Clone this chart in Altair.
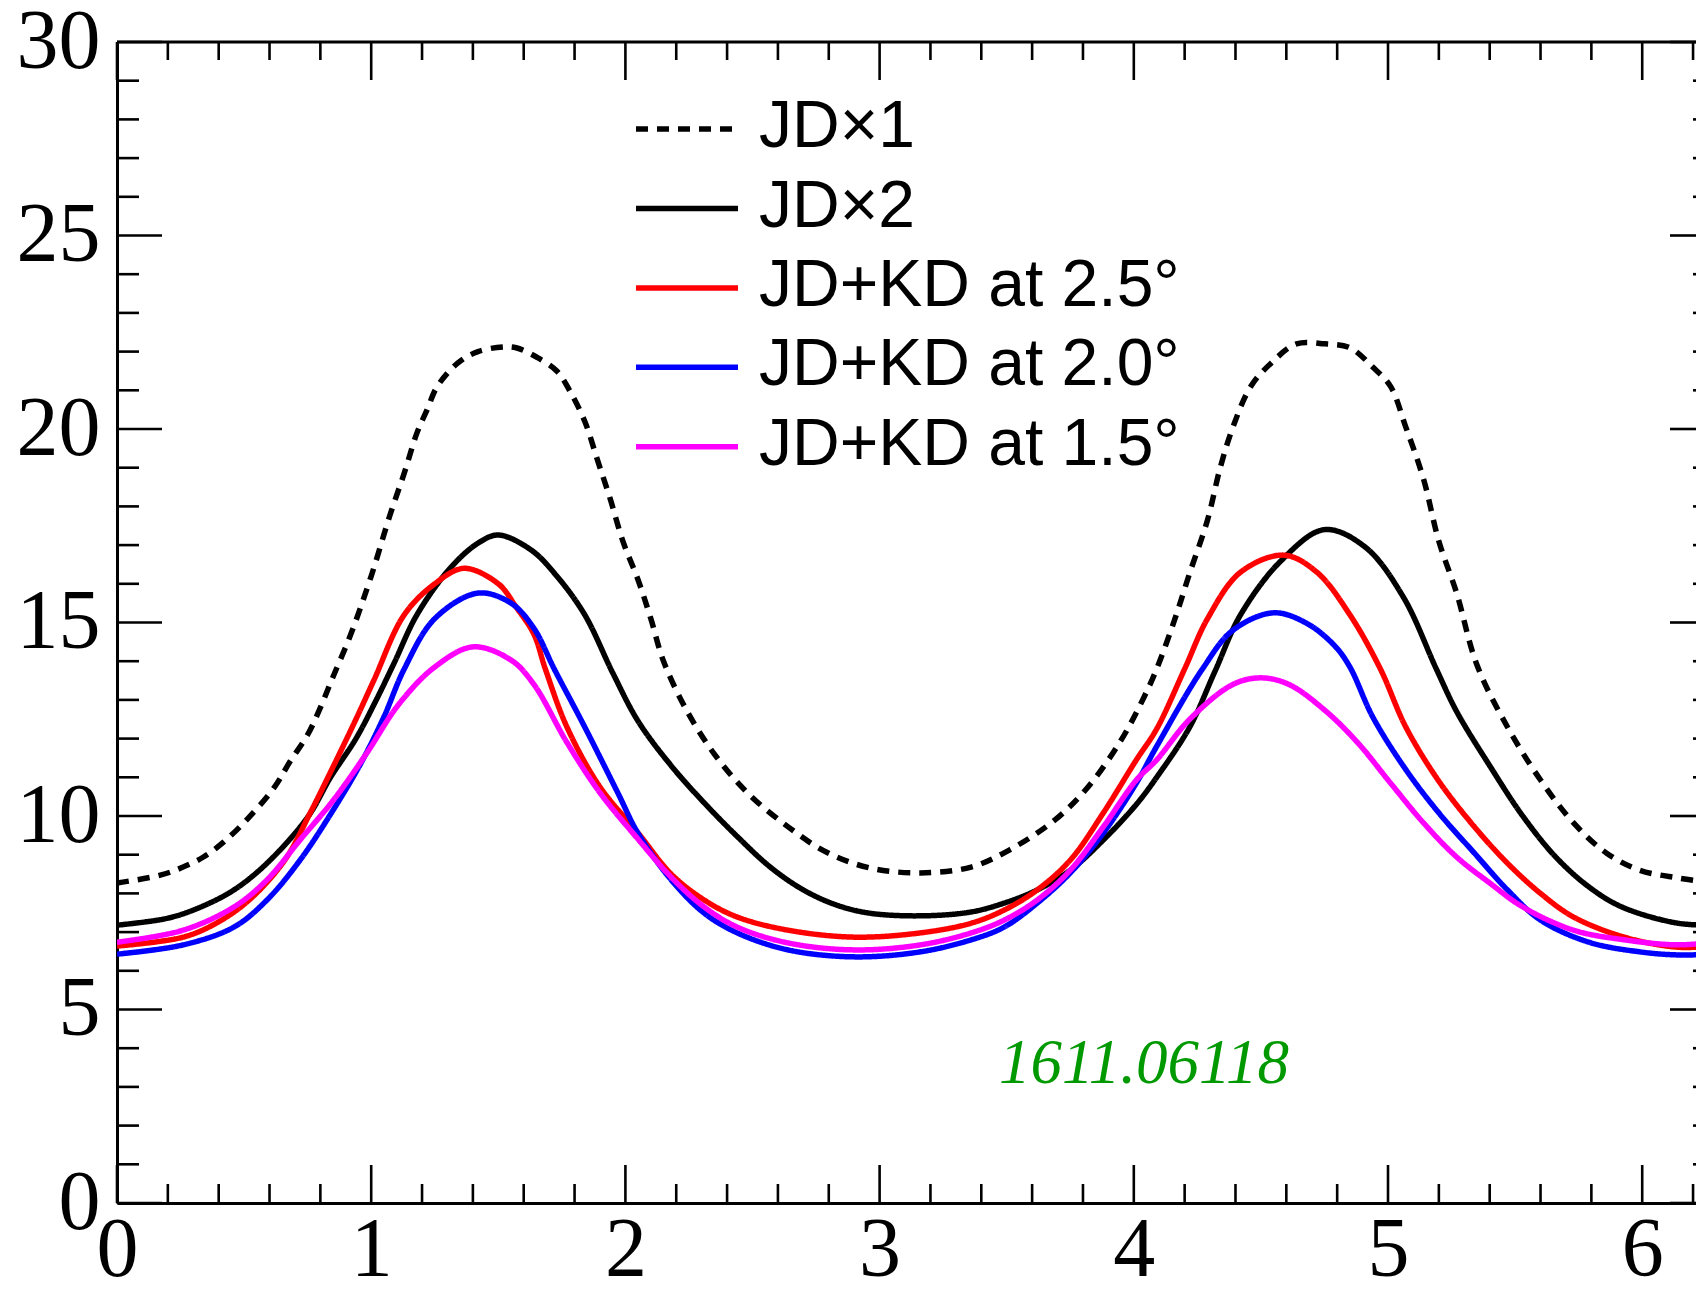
import altair as alt
import pandas as pd

# ---- curve samples (x, value) for each configuration ----
x_jd1 = [0.00, 0.17, 0.26, 0.34, 0.42, 0.52, 0.62, 0.68, 0.75, 0.80, 0.85, 0.92, 1.00, 1.075,
         1.13, 1.18, 1.22, 1.26, 1.34, 1.42, 1.52, 1.57, 1.65, 1.73, 1.78, 1.84, 1.89, 1.94,
         1.99, 2.05, 2.10, 2.15, 2.24, 2.35, 2.48, 2.64, 2.79, 2.96, 3.16, 3.36, 3.51, 3.69,
         3.82, 3.95, 4.04, 4.09, 4.16, 4.22, 4.29, 4.34, 4.39, 4.46, 4.54, 4.64, 4.75, 4.85,
         4.94, 5.01, 5.07, 5.14, 5.20, 5.27, 5.35, 5.47, 5.60, 5.73, 5.86, 5.99, 6.14, 6.28]
y_jd1 = [8.27, 8.47, 8.68, 8.94, 9.33, 9.97, 10.75, 11.4, 12.1, 12.8, 13.6, 14.7, 16.2, 17.8,
         18.86, 19.9, 20.5, 21.1, 21.7, 22.0, 22.12, 22.1, 21.86, 21.5, 21.0, 20.2, 19.2, 18.2,
         17.1, 16.1, 15.1, 14.0, 12.74, 11.6, 10.6, 9.72, 9.07, 8.66, 8.53, 8.68, 9.12, 9.9,
         10.75, 11.96, 13.07, 13.8, 15.06, 16.28, 17.65, 19.0, 20.05, 21.1, 21.7, 22.2, 22.2, 22.1,
         21.6, 21.1, 20.05, 18.7, 17.1, 15.76, 13.9, 12.3, 10.93, 9.82, 9.04, 8.6, 8.4, 8.27]

x_jd2 = [0.00, 0.20, 0.33, 0.46, 0.59, 0.75, 0.84, 0.94, 1.02, 1.09, 1.18, 1.31, 1.42, 1.50,
         1.63, 1.73, 1.84, 1.95, 2.05, 2.18, 2.31, 2.44, 2.57, 2.70, 2.83, 2.96, 3.16, 3.36,
         3.49, 3.62, 3.75, 3.88, 4.01, 4.09, 4.22, 4.32, 4.42, 4.58, 4.75, 4.91, 5.06, 5.19,
         5.27, 5.40, 5.53, 5.66, 5.79, 5.92, 6.14, 6.28]
y_jd2 = [7.18, 7.36, 7.65, 8.09, 8.78, 9.97, 11.0, 12.0, 13.0, 13.95, 15.2, 16.4, 17.05, 17.26,
         16.87, 16.2, 15.2, 13.7, 12.45, 11.3, 10.34, 9.47, 8.68, 8.09, 7.70, 7.49, 7.42, 7.52,
         7.75, 8.09, 8.6, 9.38, 10.3, 11.0, 12.3, 13.75, 15.2, 16.6, 17.4, 16.95, 15.66, 13.8,
         12.7, 11.3, 10.0, 8.94, 8.17, 7.65, 7.23, 7.18]

x_kd25 = [0.00, 0.26, 0.39, 0.52, 0.66, 0.76, 0.85, 0.94, 1.01, 1.13, 1.25, 1.365, 1.50, 1.57,
          1.64, 1.685, 1.77, 1.90, 2.05, 2.18, 2.31, 2.44, 2.64, 2.90, 3.16, 3.36, 3.49, 3.62,
          3.75, 3.88, 4.01, 4.09, 4.20, 4.29, 4.42, 4.59, 4.72, 4.85, 4.97, 5.07, 5.20, 5.34,
          5.47, 5.60, 5.73, 5.93, 6.14, 6.28]
y_kd25 = [6.64, 6.87, 7.23, 7.83, 8.86, 10.08, 11.27, 12.5, 13.5, 15.2, 16.0, 16.4, 16.0, 15.4,
          14.7, 13.8, 12.3, 10.75, 9.56, 8.5, 7.83, 7.39, 7.05, 6.87, 6.98, 7.23, 7.57, 8.09,
          8.86, 10.08, 11.45, 12.25, 13.8, 15.1, 16.3, 16.74, 16.3, 15.2, 13.8, 12.3, 10.9, 9.72,
          8.78, 8.0, 7.39, 6.87, 6.61, 6.64]

x_kd20 = [0.00, 0.26, 0.46, 0.59, 0.72, 0.85, 0.96, 1.05, 1.13, 1.25, 1.42, 1.55, 1.64, 1.72,
          1.84, 1.97, 2.05, 2.18, 2.31, 2.44, 2.64, 2.90, 3.16, 3.36, 3.49, 3.62, 3.75, 3.88,
          4.01, 4.09, 4.27, 4.39, 4.55, 4.68, 4.79, 4.85, 4.94, 5.07, 5.20, 5.34, 5.47, 5.60,
          5.79, 5.99, 6.14, 6.28]
y_kd20 = [6.43, 6.67, 7.13, 7.83, 8.86, 10.15, 11.37, 12.56, 13.8, 15.1, 15.76, 15.5, 14.85, 13.8,
          12.3, 10.6, 9.55, 8.35, 7.49, 6.98, 6.54, 6.36, 6.49, 6.80, 7.13, 7.75, 8.53, 9.56,
          10.85, 11.8, 13.8, 14.8, 15.25, 14.98, 14.4, 13.85, 12.56, 11.2, 10.08, 9.04, 8.09, 7.31,
          6.74, 6.49, 6.41, 6.43]

x_kd15 = [0.00, 0.26, 0.46, 0.59, 0.72, 0.85, 0.98, 1.11, 1.25, 1.40, 1.55, 1.64, 1.77, 1.90,
          2.05, 2.18, 2.31, 2.44, 2.64, 2.90, 3.16, 3.36, 3.49, 3.62, 3.75, 3.88, 4.01, 4.09,
          4.22, 4.39, 4.50, 4.61, 4.75, 4.88, 5.01, 5.14, 5.27, 5.40, 5.53, 5.73, 5.93, 6.14, 6.28]
y_kd15 = [6.74, 7.05, 7.65, 8.35, 9.38, 10.4, 11.6, 12.9, 13.85, 14.37, 14.03, 13.4, 11.9, 10.6,
          9.4, 8.42, 7.65, 7.13, 6.72, 6.54, 6.67, 6.98, 7.31, 7.83, 8.6, 9.72, 10.93, 11.45,
          12.5, 13.4, 13.57, 13.4, 12.74, 11.9, 10.85, 9.82, 8.94, 8.27, 7.65, 7.05, 6.80, 6.67, 6.74]

series_names = ["JD×1", "JD×2", "JD+KD at 2.5°", "JD+KD at 2.0°", "JD+KD at 1.5°"]
series_x = [x_jd1, x_jd2, x_kd25, x_kd20, x_kd15]
series_y = [y_jd1, y_jd2, y_kd25, y_kd20, y_kd15]

# ---- axis ticks ----
x_major = [0, 1, 2, 3, 4, 5, 6]
x_minor = [round(k * 0.2, 1) for k in range(32) if k % 5 != 0]
y_major = [0, 5, 10, 15, 20, 25, 30]
y_minor = [v for v in range(31) if v % 5 != 0]

note_text = "1611.06118"

# ---- styles ----
line_colors = ["#000000", "#000000", "#ff0000", "#0000ff", "#ff00ff"]
line_dashes = [[12, 9], [1, 0], [1, 0], [1, 0], [1, 0]]
LINE_W = 5.5

W, H = 1579, 1161
X_MAX = 6.2116

x_scale = alt.Scale(domain=[0, X_MAX], nice=False, zero=False)
y_scale = alt.Scale(domain=[0, 30], nice=False, zero=False)

x_axis = alt.Axis(values=x_major, ticks=False, tickSize=0, grid=False, domain=True,
                  domainColor="black", domainWidth=3, labelFont="Liberation Serif",
                  labelFontSize=84, labelColor="black", labelPadding=6, labelFlush=False,
                  labelOverlap=False, format="d", title=None)
y_axis = alt.Axis(values=y_major, ticks=False, tickSize=0, grid=False, domain=True,
                  domainColor="black", domainWidth=3, labelFont="Liberation Serif",
                  labelFontSize=84, labelColor="black", labelPadding=17,
                  labelOverlap=False, format="d", title=None)

layers = []

# curves
for i, name in enumerate(series_names):
    df = pd.DataFrame({"x": series_x[i], "y": series_y[i], "series": name})
    layers.append(
        alt.Chart(df).mark_line(
            color=line_colors[i], strokeDash=line_dashes[i], strokeWidth=LINE_W,
            interpolate="catmull-rom", clip=True
        ).encode(
            x=alt.X("x:Q", scale=x_scale, axis=x_axis),
            y=alt.Y("y:Q", scale=y_scale, axis=y_axis),
        )
    )

# frame ticks
xmaj = pd.DataFrame({"t": x_major})
xmin = pd.DataFrame({"t": x_minor})
ymaj = pd.DataFrame({"t": y_major})
ymin = pd.DataFrame({"t": y_minor})
tick_style = dict(color="black", strokeWidth=2.6)

def xticks(df, y0, y1):
    return alt.Chart(df).mark_rule(**tick_style).encode(
        x=alt.X("t:Q", scale=x_scale, axis=x_axis), y=alt.value(y0), y2=alt.value(y1))

def yticks(df, x0, x1):
    return alt.Chart(df).mark_rule(**tick_style).encode(
        y=alt.Y("t:Q", scale=y_scale, axis=y_axis), x=alt.value(x0), x2=alt.value(x1))

# the right frame sits just past the visible edge; only the tips of its ticks show
layers += [
    xticks(xmaj, H, H - 38), xticks(xmin, H, H - 19),
    xticks(xmaj, 0, 38), xticks(xmin, 0, 18),
    yticks(ymaj, 0, 45), yticks(ymin, 0, 22),
    yticks(ymaj, W - 26, W), yticks(ymin, W - 3, W),
]

# top frame line
layers.append(
    alt.Chart(pd.DataFrame({"k": [0]})).mark_rule(color="black", strokeWidth=3).encode(
        x=alt.value(0), x2=alt.value(W), y=alt.value(0))
)

# legend
LEG_Y0, LEG_DY = 87.1, 79.4
for i, name in enumerate(series_names):
    ly = LEG_Y0 + LEG_DY * i
    d = pd.DataFrame({"label": [name]})
    layers.append(
        alt.Chart(d).mark_rule(color=line_colors[i], strokeDash=line_dashes[i], strokeWidth=LINE_W)
        .encode(x=alt.value(519), x2=alt.value(621), y=alt.value(ly))
    )
    layers.append(
        alt.Chart(d).mark_text(font="Liberation Sans", fontSize=66, color="black",
                               align="left", baseline="alphabetic")
        .encode(x=alt.value(642), y=alt.value(ly + 18), text="label:N")
    )

# reference tag
layers.append(
    alt.Chart(pd.DataFrame({"t": [note_text]})).mark_text(
        font="Liberation Serif", fontStyle="italic", fontSize=63, color="#009900",
        align="left", baseline="alphabetic"
    ).encode(x=alt.value(882), y=alt.value(1041), text="t:N")
)

chart = alt.layer(*layers).properties(
    width=W, height=H,
    padding={"left": 117, "top": 42, "right": 0, "bottom": 86},
    autosize=alt.AutoSizeParams(type="none"),
    background="white",
).configure_view(stroke=None)

chart.save("out.html", embed_options={"renderer": "svg", "actions": False})
